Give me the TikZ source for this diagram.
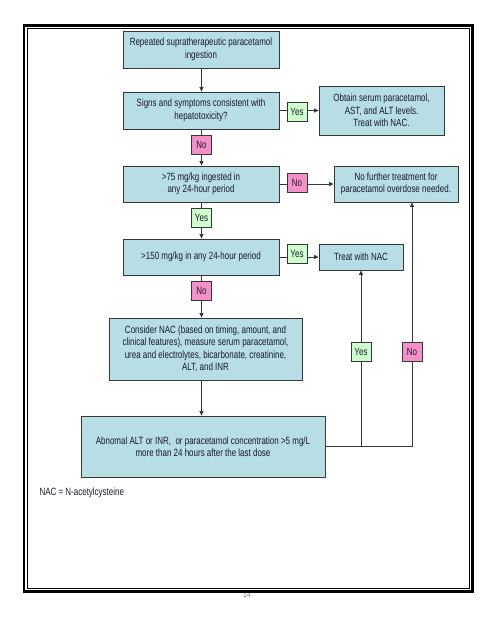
\documentclass[tikz,border=0pt]{standalone}
\usepackage{fontspec}
\setmainfont{Liberation Sans}[FakeStretch=0.76]
\usetikzlibrary{arrows.meta}
\definecolor{boxfill}{RGB}{183,222,228}
\definecolor{yesfill}{RGB}{204,255,204}
\definecolor{nofill}{RGB}{245,145,200}
\definecolor{linec}{RGB}{55,55,55}
\definecolor{txt}{RGB}{25,25,45}
\tikzset{
  flowbox/.style={draw=linec, line width=0.8pt, fill=boxfill, align=center, inner sep=2pt,
    font=\fontsize{10.5}{12.5}\selectfont, text=txt},
  yeslab/.style={draw=linec, line width=0.6pt, fill=yesfill, minimum width=20pt, minimum height=19pt,
    inner sep=0pt, font=\fontsize{10.5}{12}\selectfont, text=txt},
  nolab/.style={draw=linec, line width=0.6pt, fill=nofill, minimum width=20pt, minimum height=19pt,
    inner sep=0pt, font=\fontsize{10.5}{12}\selectfont, text=txt},
  conn/.style={draw=linec, line width=0.7pt},
  arrowc/.style={conn, -{Triangle[length=4.5pt,width=4pt]}},
}
\begin{document}
\begin{tikzpicture}[x=1pt,y=-1pt]
\useasboundingbox (0,0) rectangle (495,640);
\fill[white] (0,0) rectangle (495,640);

% page number (partly under border)
\node[font=\fontsize{9}{10}\selectfont, text=gray] (pg) at (247,594.5) {14};
\fill[white] (232,585) rectangle (262,590);

% boxes
\node[flowbox, minimum width=156pt, minimum height=37pt] (b1) at (201,49.5)
  {Repeated supratherapeutic paracetamol\\ingestion};
\node[flowbox, minimum width=156pt, minimum height=37pt] (b2) at (201,110.5)
  {Signs and symptoms consistent with\\hepatotoxicity?};
\node[flowbox, minimum width=125pt, minimum height=49pt] (obt) at (381.5,110.5)
  {Obtain serum paracetamol,\\AST, and ALT levels.\\Treat with NAC.};
\node[flowbox, minimum width=156pt, minimum height=36pt] (b3) at (201,184)
  {>75 mg/kg ingested in\\any 24-hour period};
\node[flowbox, minimum width=124pt, minimum height=36pt] (nf) at (396,184)
  {No further treatment for\\paracetamol overdose needed.};
\node[flowbox, minimum width=156pt, minimum height=36pt] (b4) at (201,257)
  {>150 mg/kg in any 24-hour period};
\node[flowbox, minimum width=84pt, minimum height=26pt] (tr) at (361,257)
  {Treat with NAC};
\node[flowbox, minimum width=193pt, minimum height=62pt] (b5) at (205.5,349)
  {Consider NAC (based on timing, amount, and\\clinical features), measure serum paracetamol,\\urea and electrolytes, bicarbonate, creatinine,\\ALT, and INR};
\node[flowbox, minimum width=244pt, minimum height=61pt] (b6) at (203,446.5)
  {Abnomal ALT or INR,\ \ or paracetamol concentration >5 mg/L\\more than 24 hours after the last dose};

% labels
\node[yeslab] (y1) at (297,112) {Yes};
\node[nolab] (n1) at (201.5,145) {No};
\node[nolab] (n2) at (297,183) {No};
\node[yeslab] (y2) at (201.5,217.5) {Yes};
\node[yeslab] (y3) at (297,254) {Yes};
\node[nolab] (n3) at (201.5,291) {No};
\node[yeslab] (y4) at (361,352) {Yes};
\node[nolab] (n4) at (412,352) {No};

\coordinate (c1) at (361,446.5);
\coordinate (c2) at (412,446.5);

% connectors
\draw[arrowc] (b1.south -| n1) -- (b2.north -| n1);
\draw[conn] (b2.south -| n1) -- (n1);
\draw[arrowc] (n1) -- (b3.north -| n1);
\draw[conn] (b3.south -| y2) -- (y2);
\draw[arrowc] (y2) -- (b4.north -| y2);
\draw[conn] (b4.south -| n3) -- (n3);
\draw[arrowc] (n3) -- (b5.north -| n3);
\draw[arrowc] (b5.south -| n3) -- (b6.north -| n3);

\draw[conn] (b2.east) -- (y1.west |- b2.east);
\draw[arrowc] (y1.east |- b2.east) -- (obt.west);
\draw[conn] (b3.east) -- (n2.west |- b3.east);
\draw[arrowc] (n2.east |- b3.east) -- (nf.west);
\draw[conn] (b4.east) -- (y3.west |- b4.east);
\draw[arrowc] (y3.east |- b4.east) -- (tr.west);

\draw[conn] (b6.east) -- (c2);
\draw[conn] (c1) -- (y4);
\draw[arrowc] (y4) -- (tr.south -| y4);
\draw[conn] (c2) -- (n4);
\draw[arrowc] (n4) -- (nf.south -| n4);

% footnote
\node[anchor=west, font=\fontsize{10.5}{12}\selectfont, text=txt] (fn) at (36,493) {NAC = N-acetylcysteine};

% page border
\draw[line width=2.6pt, black] (24,25.3) rectangle (472.5,591.5);
\draw[line width=1pt, black] (27.2,28.2) rectangle (469,588);
\end{tikzpicture}
\end{document}
